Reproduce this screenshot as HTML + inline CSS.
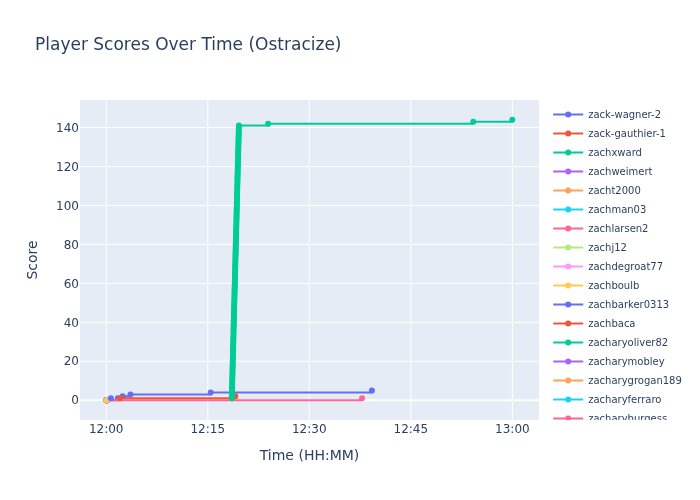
<!DOCTYPE html>
<html lang="en">
<head>
<meta charset="utf-8">
<title>Player Scores Over Time (Ostracize)</title>
<style>
html,body{margin:0;padding:0;background:#fff;}
body{width:700px;height:500px;overflow:hidden;}
svg{display:block;font-family:"DejaVu Sans","Liberation Sans",sans-serif;}
text{fill:#2a3f5f;white-space:pre;}
.gl{fill:none;stroke:#fff;stroke-width:1px;}
.l{fill:none;stroke-width:2;stroke-linejoin:round;}
</style>
</head>
<body>
<svg width="700" height="500" viewBox="0 0 700 500">
<rect x="0" y="0" width="700" height="500" fill="#ffffff"/>
<rect x="80" y="100" width="459" height="320" fill="#E5ECF6"/>
<path class="gl" d="M106.22,100v320"/>
<path class="gl" d="M207.75,100v320"/>
<path class="gl" d="M309.29,100v320"/>
<path class="gl" d="M410.83,100v320"/>
<path class="gl" d="M512.36,100v320"/>
<path class="gl" d="M80,361.29h459"/>
<path class="gl" d="M80,322.33h459"/>
<path class="gl" d="M80,283.37h459"/>
<path class="gl" d="M80,244.42h459"/>
<path class="gl" d="M80,205.46h459"/>
<path class="gl" d="M80,166.50h459"/>
<path class="gl" d="M80,127.54h459"/>
<path class="gl" style="stroke-width:2px" d="M80,400.25h459"/>
<defs><clipPath id="pc"><rect x="80" y="100" width="459" height="320"/></clipPath><clipPath id="lc"><rect x="548" y="100" width="152" height="320"/></clipPath></defs>
<g clip-path="url(#pc)">
<path class="l" d="M106.70,400.25H117.90V398.30H122.60V396.35H130.50V394.41H210.65V392.46H371.90V390.51" stroke="#636EFA"/><circle cx="106.70" cy="400.25" r="3" fill="#636EFA"/><circle cx="117.90" cy="398.30" r="3" fill="#636EFA"/><circle cx="122.60" cy="396.35" r="3" fill="#636EFA"/><circle cx="130.50" cy="394.41" r="3" fill="#636EFA"/><circle cx="210.65" cy="392.46" r="3" fill="#636EFA"/><circle cx="371.90" cy="390.51" r="3" fill="#636EFA"/>
<circle cx="106.7" cy="400.25" r="3" fill="#636EFA"/>
<circle cx="106.7" cy="400.25" r="3" fill="#EF553B"/>
<circle cx="106.7" cy="400.25" r="3" fill="#00CC96"/>
<circle cx="106.7" cy="400.25" r="3" fill="#AB63FA"/>
<circle cx="106.7" cy="400.25" r="3" fill="#FFA15A"/>
<circle cx="106.7" cy="400.25" r="3" fill="#19D3F3"/>
<circle cx="106.7" cy="400.25" r="3" fill="#FF6692"/>
<circle cx="106.7" cy="400.25" r="3" fill="#B6E880"/>
<circle cx="106.7" cy="400.25" r="3" fill="#FF97FF"/>
<circle cx="106.7" cy="400.25" r="3" fill="#FECB52"/>
<circle cx="106.7" cy="400.25" r="3" fill="#636EFA"/>
<circle cx="106.7" cy="400.25" r="3" fill="#EF553B"/>
<circle cx="106.7" cy="400.25" r="3" fill="#00CC96"/>
<circle cx="106.7" cy="400.25" r="3" fill="#AB63FA"/>
<circle cx="106.7" cy="400.25" r="3" fill="#FFA15A"/>
<circle cx="106.7" cy="400.25" r="3" fill="#19D3F3"/>
<circle cx="106.7" cy="400.25" r="3" fill="#FF6692"/>
<circle cx="106.7" cy="400.25" r="3" fill="#B6E880"/>
<circle cx="106.7" cy="400.25" r="3" fill="#FF97FF"/>
<circle cx="106.7" cy="400.25" r="3" fill="#FECB52"/>
<circle cx="106.7" cy="400.25" r="3" fill="#636EFA"/>
<circle cx="106.7" cy="400.25" r="3" fill="#EF553B"/>
<circle cx="106.7" cy="400.25" r="3" fill="#00CC96"/>
<circle cx="106.7" cy="400.25" r="3" fill="#AB63FA"/>
<circle cx="106.7" cy="400.25" r="3" fill="#FFA15A"/>
<circle cx="106.7" cy="400.25" r="3" fill="#19D3F3"/>
<circle cx="106.7" cy="400.25" r="3" fill="#FF6692"/>
<circle cx="106.7" cy="400.25" r="3" fill="#B6E880"/>
<circle cx="106.7" cy="400.25" r="3" fill="#FF97FF"/>
<circle cx="106.7" cy="400.25" r="3" fill="#636EFA"/>
<circle cx="106.7" cy="400.25" r="3" fill="#EF553B"/>
<circle cx="106.7" cy="400.25" r="3" fill="#00CC96"/>
<circle cx="106.7" cy="400.25" r="3" fill="#AB63FA"/>
<circle cx="106.7" cy="400.25" r="3" fill="#FFA15A"/>
<circle cx="106.7" cy="400.25" r="3" fill="#19D3F3"/>
<circle cx="106.7" cy="400.25" r="3" fill="#FF6692"/>
<circle cx="106.7" cy="400.25" r="3" fill="#B6E880"/>
<circle cx="106.7" cy="400.25" r="3" fill="#FF97FF"/>
<path class="l" d="M106.70,400.25H362.00V398.30" stroke="#FF6692"/><circle cx="106.70" cy="400.25" r="3" fill="#FF6692"/><circle cx="362.00" cy="398.30" r="3" fill="#FF6692"/>
<circle cx="106.7" cy="400.25" r="3" fill="#FECB52"/>
<circle cx="110.85" cy="398.30" r="3" fill="#636EFA"/>
<path class="l" d="M120.00,398.30H235.30V396.35" stroke="#EF553B"/><circle cx="120.00" cy="398.30" r="3" fill="#EF553B"/><circle cx="235.30" cy="396.35" r="3" fill="#EF553B"/>
<path class="l" d="M231.80,398.30H231.85V396.35H231.90V394.41H231.95V392.46H232.00V390.51H232.05V388.56H232.10V386.61H232.16V384.67H232.21V382.72H232.26V380.77H232.31V378.82H232.36V376.87H232.41V374.93H232.46V372.98H232.51V371.03H232.56V369.08H232.61V367.14H232.66V365.19H232.71V363.24H232.76V361.29H232.81V359.34H232.87V357.40H232.92V355.45H232.97V353.50H233.02V351.55H233.07V349.60H233.12V347.66H233.17V345.71H233.22V343.76H233.27V341.81H233.32V339.86H233.37V337.92H233.42V335.97H233.47V334.02H233.52V332.07H233.58V330.12H233.63V328.18H233.68V326.23H233.73V324.28H233.78V322.33H233.83V320.39H233.88V318.44H233.93V316.49H233.98V314.54H234.03V312.59H234.08V310.65H234.13V308.70H234.18V306.75H234.23V304.80H234.28V302.85H234.34V300.91H234.39V298.96H234.44V297.01H234.49V295.06H234.54V293.11H234.59V291.17H234.64V289.22H234.69V287.27H234.74V285.32H234.79V283.37H234.84V281.43H234.89V279.48H234.94V277.53H235.00V275.58H235.05V273.64H235.10V271.69H235.15V269.74H235.20V267.79H235.25V265.84H235.30V263.90H235.35V261.95H235.40V260.00H235.45V258.05H235.50V256.10H235.55V254.16H235.60V252.21H235.65V250.26H235.71V248.31H235.76V246.36H235.81V244.42H235.86V242.47H235.91V240.52H235.96V238.57H236.01V236.62H236.06V234.68H236.11V232.73H236.16V230.78H236.21V228.83H236.26V226.89H236.31V224.94H236.36V222.99H236.42V221.04H236.47V219.09H236.52V217.15H236.57V215.20H236.62V213.25H236.67V211.30H236.72V209.35H236.77V207.41H236.82V205.46H236.87V203.51H236.92V201.56H236.97V199.61H237.02V197.67H237.07V195.72H237.12V193.77H237.18V191.82H237.23V189.87H237.28V187.93H237.33V185.98H237.38V184.03H237.43V182.08H237.48V180.14H237.53V178.19H237.58V176.24H237.63V174.29H237.68V172.34H237.73V170.40H237.78V168.45H237.84V166.50H237.89V164.55H237.94V162.60H237.99V160.66H238.04V158.71H238.09V156.76H238.14V154.81H238.19V152.86H238.24V150.92H238.29V148.97H238.34V147.02H238.39V145.07H238.44V143.12H238.49V141.18H238.55V139.23H238.60V137.28H238.65V135.33H238.70V133.38H238.75V131.44H238.80V129.49H238.85V127.54H238.90V125.59H268.10V123.65H473.25V121.70H512.30V119.75" stroke="#00CC96"/><circle cx="231.80" cy="398.30" r="3" fill="#00CC96"/><circle cx="231.85" cy="396.35" r="3" fill="#00CC96"/><circle cx="231.90" cy="394.41" r="3" fill="#00CC96"/><circle cx="231.95" cy="392.46" r="3" fill="#00CC96"/><circle cx="232.00" cy="390.51" r="3" fill="#00CC96"/><circle cx="232.05" cy="388.56" r="3" fill="#00CC96"/><circle cx="232.10" cy="386.61" r="3" fill="#00CC96"/><circle cx="232.16" cy="384.67" r="3" fill="#00CC96"/><circle cx="232.21" cy="382.72" r="3" fill="#00CC96"/><circle cx="232.26" cy="380.77" r="3" fill="#00CC96"/><circle cx="232.31" cy="378.82" r="3" fill="#00CC96"/><circle cx="232.36" cy="376.87" r="3" fill="#00CC96"/><circle cx="232.41" cy="374.93" r="3" fill="#00CC96"/><circle cx="232.46" cy="372.98" r="3" fill="#00CC96"/><circle cx="232.51" cy="371.03" r="3" fill="#00CC96"/><circle cx="232.56" cy="369.08" r="3" fill="#00CC96"/><circle cx="232.61" cy="367.14" r="3" fill="#00CC96"/><circle cx="232.66" cy="365.19" r="3" fill="#00CC96"/><circle cx="232.71" cy="363.24" r="3" fill="#00CC96"/><circle cx="232.76" cy="361.29" r="3" fill="#00CC96"/><circle cx="232.81" cy="359.34" r="3" fill="#00CC96"/><circle cx="232.87" cy="357.40" r="3" fill="#00CC96"/><circle cx="232.92" cy="355.45" r="3" fill="#00CC96"/><circle cx="232.97" cy="353.50" r="3" fill="#00CC96"/><circle cx="233.02" cy="351.55" r="3" fill="#00CC96"/><circle cx="233.07" cy="349.60" r="3" fill="#00CC96"/><circle cx="233.12" cy="347.66" r="3" fill="#00CC96"/><circle cx="233.17" cy="345.71" r="3" fill="#00CC96"/><circle cx="233.22" cy="343.76" r="3" fill="#00CC96"/><circle cx="233.27" cy="341.81" r="3" fill="#00CC96"/><circle cx="233.32" cy="339.86" r="3" fill="#00CC96"/><circle cx="233.37" cy="337.92" r="3" fill="#00CC96"/><circle cx="233.42" cy="335.97" r="3" fill="#00CC96"/><circle cx="233.47" cy="334.02" r="3" fill="#00CC96"/><circle cx="233.52" cy="332.07" r="3" fill="#00CC96"/><circle cx="233.58" cy="330.12" r="3" fill="#00CC96"/><circle cx="233.63" cy="328.18" r="3" fill="#00CC96"/><circle cx="233.68" cy="326.23" r="3" fill="#00CC96"/><circle cx="233.73" cy="324.28" r="3" fill="#00CC96"/><circle cx="233.78" cy="322.33" r="3" fill="#00CC96"/><circle cx="233.83" cy="320.39" r="3" fill="#00CC96"/><circle cx="233.88" cy="318.44" r="3" fill="#00CC96"/><circle cx="233.93" cy="316.49" r="3" fill="#00CC96"/><circle cx="233.98" cy="314.54" r="3" fill="#00CC96"/><circle cx="234.03" cy="312.59" r="3" fill="#00CC96"/><circle cx="234.08" cy="310.65" r="3" fill="#00CC96"/><circle cx="234.13" cy="308.70" r="3" fill="#00CC96"/><circle cx="234.18" cy="306.75" r="3" fill="#00CC96"/><circle cx="234.23" cy="304.80" r="3" fill="#00CC96"/><circle cx="234.28" cy="302.85" r="3" fill="#00CC96"/><circle cx="234.34" cy="300.91" r="3" fill="#00CC96"/><circle cx="234.39" cy="298.96" r="3" fill="#00CC96"/><circle cx="234.44" cy="297.01" r="3" fill="#00CC96"/><circle cx="234.49" cy="295.06" r="3" fill="#00CC96"/><circle cx="234.54" cy="293.11" r="3" fill="#00CC96"/><circle cx="234.59" cy="291.17" r="3" fill="#00CC96"/><circle cx="234.64" cy="289.22" r="3" fill="#00CC96"/><circle cx="234.69" cy="287.27" r="3" fill="#00CC96"/><circle cx="234.74" cy="285.32" r="3" fill="#00CC96"/><circle cx="234.79" cy="283.37" r="3" fill="#00CC96"/><circle cx="234.84" cy="281.43" r="3" fill="#00CC96"/><circle cx="234.89" cy="279.48" r="3" fill="#00CC96"/><circle cx="234.94" cy="277.53" r="3" fill="#00CC96"/><circle cx="235.00" cy="275.58" r="3" fill="#00CC96"/><circle cx="235.05" cy="273.64" r="3" fill="#00CC96"/><circle cx="235.10" cy="271.69" r="3" fill="#00CC96"/><circle cx="235.15" cy="269.74" r="3" fill="#00CC96"/><circle cx="235.20" cy="267.79" r="3" fill="#00CC96"/><circle cx="235.25" cy="265.84" r="3" fill="#00CC96"/><circle cx="235.30" cy="263.90" r="3" fill="#00CC96"/><circle cx="235.35" cy="261.95" r="3" fill="#00CC96"/><circle cx="235.40" cy="260.00" r="3" fill="#00CC96"/><circle cx="235.45" cy="258.05" r="3" fill="#00CC96"/><circle cx="235.50" cy="256.10" r="3" fill="#00CC96"/><circle cx="235.55" cy="254.16" r="3" fill="#00CC96"/><circle cx="235.60" cy="252.21" r="3" fill="#00CC96"/><circle cx="235.65" cy="250.26" r="3" fill="#00CC96"/><circle cx="235.71" cy="248.31" r="3" fill="#00CC96"/><circle cx="235.76" cy="246.36" r="3" fill="#00CC96"/><circle cx="235.81" cy="244.42" r="3" fill="#00CC96"/><circle cx="235.86" cy="242.47" r="3" fill="#00CC96"/><circle cx="235.91" cy="240.52" r="3" fill="#00CC96"/><circle cx="235.96" cy="238.57" r="3" fill="#00CC96"/><circle cx="236.01" cy="236.62" r="3" fill="#00CC96"/><circle cx="236.06" cy="234.68" r="3" fill="#00CC96"/><circle cx="236.11" cy="232.73" r="3" fill="#00CC96"/><circle cx="236.16" cy="230.78" r="3" fill="#00CC96"/><circle cx="236.21" cy="228.83" r="3" fill="#00CC96"/><circle cx="236.26" cy="226.89" r="3" fill="#00CC96"/><circle cx="236.31" cy="224.94" r="3" fill="#00CC96"/><circle cx="236.36" cy="222.99" r="3" fill="#00CC96"/><circle cx="236.42" cy="221.04" r="3" fill="#00CC96"/><circle cx="236.47" cy="219.09" r="3" fill="#00CC96"/><circle cx="236.52" cy="217.15" r="3" fill="#00CC96"/><circle cx="236.57" cy="215.20" r="3" fill="#00CC96"/><circle cx="236.62" cy="213.25" r="3" fill="#00CC96"/><circle cx="236.67" cy="211.30" r="3" fill="#00CC96"/><circle cx="236.72" cy="209.35" r="3" fill="#00CC96"/><circle cx="236.77" cy="207.41" r="3" fill="#00CC96"/><circle cx="236.82" cy="205.46" r="3" fill="#00CC96"/><circle cx="236.87" cy="203.51" r="3" fill="#00CC96"/><circle cx="236.92" cy="201.56" r="3" fill="#00CC96"/><circle cx="236.97" cy="199.61" r="3" fill="#00CC96"/><circle cx="237.02" cy="197.67" r="3" fill="#00CC96"/><circle cx="237.07" cy="195.72" r="3" fill="#00CC96"/><circle cx="237.12" cy="193.77" r="3" fill="#00CC96"/><circle cx="237.18" cy="191.82" r="3" fill="#00CC96"/><circle cx="237.23" cy="189.87" r="3" fill="#00CC96"/><circle cx="237.28" cy="187.93" r="3" fill="#00CC96"/><circle cx="237.33" cy="185.98" r="3" fill="#00CC96"/><circle cx="237.38" cy="184.03" r="3" fill="#00CC96"/><circle cx="237.43" cy="182.08" r="3" fill="#00CC96"/><circle cx="237.48" cy="180.14" r="3" fill="#00CC96"/><circle cx="237.53" cy="178.19" r="3" fill="#00CC96"/><circle cx="237.58" cy="176.24" r="3" fill="#00CC96"/><circle cx="237.63" cy="174.29" r="3" fill="#00CC96"/><circle cx="237.68" cy="172.34" r="3" fill="#00CC96"/><circle cx="237.73" cy="170.40" r="3" fill="#00CC96"/><circle cx="237.78" cy="168.45" r="3" fill="#00CC96"/><circle cx="237.84" cy="166.50" r="3" fill="#00CC96"/><circle cx="237.89" cy="164.55" r="3" fill="#00CC96"/><circle cx="237.94" cy="162.60" r="3" fill="#00CC96"/><circle cx="237.99" cy="160.66" r="3" fill="#00CC96"/><circle cx="238.04" cy="158.71" r="3" fill="#00CC96"/><circle cx="238.09" cy="156.76" r="3" fill="#00CC96"/><circle cx="238.14" cy="154.81" r="3" fill="#00CC96"/><circle cx="238.19" cy="152.86" r="3" fill="#00CC96"/><circle cx="238.24" cy="150.92" r="3" fill="#00CC96"/><circle cx="238.29" cy="148.97" r="3" fill="#00CC96"/><circle cx="238.34" cy="147.02" r="3" fill="#00CC96"/><circle cx="238.39" cy="145.07" r="3" fill="#00CC96"/><circle cx="238.44" cy="143.12" r="3" fill="#00CC96"/><circle cx="238.49" cy="141.18" r="3" fill="#00CC96"/><circle cx="238.55" cy="139.23" r="3" fill="#00CC96"/><circle cx="238.60" cy="137.28" r="3" fill="#00CC96"/><circle cx="238.65" cy="135.33" r="3" fill="#00CC96"/><circle cx="238.70" cy="133.38" r="3" fill="#00CC96"/><circle cx="238.75" cy="131.44" r="3" fill="#00CC96"/><circle cx="238.80" cy="129.49" r="3" fill="#00CC96"/><circle cx="238.85" cy="127.54" r="3" fill="#00CC96"/><circle cx="238.90" cy="125.59" r="3" fill="#00CC96"/><circle cx="268.10" cy="123.65" r="3" fill="#00CC96"/><circle cx="473.25" cy="121.70" r="3" fill="#00CC96"/><circle cx="512.30" cy="119.75" r="3" fill="#00CC96"/>
</g>
<text x="106.22" y="433" text-anchor="middle" font-size="12">12:00</text>
<text x="207.75" y="433" text-anchor="middle" font-size="12">12:15</text>
<text x="309.29" y="433" text-anchor="middle" font-size="12">12:30</text>
<text x="410.83" y="433" text-anchor="middle" font-size="12">12:45</text>
<text x="512.36" y="433" text-anchor="middle" font-size="12">13:00</text>
<text x="79" y="404.45" text-anchor="end" font-size="12">0</text>
<text x="79" y="365.49" text-anchor="end" font-size="12">20</text>
<text x="79" y="326.53" text-anchor="end" font-size="12">40</text>
<text x="79" y="287.57" text-anchor="end" font-size="12">60</text>
<text x="79" y="248.62" text-anchor="end" font-size="12">80</text>
<text x="79" y="209.66" text-anchor="end" font-size="12">100</text>
<text x="79" y="170.70" text-anchor="end" font-size="12">120</text>
<text x="79" y="131.74" text-anchor="end" font-size="12">140</text>
<text x="35" y="50" font-size="17">Player Scores Over Time (Ostracize)</text>
<text x="309.5" y="460.3" text-anchor="middle" font-size="14">Time (HH:MM)</text>
<text transform="rotate(-90,37.3,260)" x="37.3" y="260" text-anchor="middle" font-size="14">Score</text>
<g clip-path="url(#lc)">
<path class="l" d="M553.2,114.5H583.2" stroke="#636EFA"/><circle cx="568.2" cy="114.5" r="3" fill="#636EFA"/><text x="588.2" y="118.40" font-size="10">zack-wagner-2</text>
<path class="l" d="M553.2,133.5H583.2" stroke="#EF553B"/><circle cx="568.2" cy="133.5" r="3" fill="#EF553B"/><text x="588.2" y="137.40" font-size="10">zack-gauthier-1</text>
<path class="l" d="M553.2,152.5H583.2" stroke="#00CC96"/><circle cx="568.2" cy="152.5" r="3" fill="#00CC96"/><text x="588.2" y="156.40" font-size="10">zachxward</text>
<path class="l" d="M553.2,171.5H583.2" stroke="#AB63FA"/><circle cx="568.2" cy="171.5" r="3" fill="#AB63FA"/><text x="588.2" y="175.40" font-size="10">zachweimert</text>
<path class="l" d="M553.2,190.5H583.2" stroke="#FFA15A"/><circle cx="568.2" cy="190.5" r="3" fill="#FFA15A"/><text x="588.2" y="194.40" font-size="10">zacht2000</text>
<path class="l" d="M553.2,209.5H583.2" stroke="#19D3F3"/><circle cx="568.2" cy="209.5" r="3" fill="#19D3F3"/><text x="588.2" y="213.40" font-size="10">zachman03</text>
<path class="l" d="M553.2,228.5H583.2" stroke="#FF6692"/><circle cx="568.2" cy="228.5" r="3" fill="#FF6692"/><text x="588.2" y="232.40" font-size="10">zachlarsen2</text>
<path class="l" d="M553.2,247.5H583.2" stroke="#B6E880"/><circle cx="568.2" cy="247.5" r="3" fill="#B6E880"/><text x="588.2" y="251.40" font-size="10">zachj12</text>
<path class="l" d="M553.2,266.5H583.2" stroke="#FF97FF"/><circle cx="568.2" cy="266.5" r="3" fill="#FF97FF"/><text x="588.2" y="270.40" font-size="10">zachdegroat77</text>
<path class="l" d="M553.2,285.5H583.2" stroke="#FECB52"/><circle cx="568.2" cy="285.5" r="3" fill="#FECB52"/><text x="588.2" y="289.40" font-size="10">zachboulb</text>
<path class="l" d="M553.2,304.5H583.2" stroke="#636EFA"/><circle cx="568.2" cy="304.5" r="3" fill="#636EFA"/><text x="588.2" y="308.40" font-size="10">zachbarker0313</text>
<path class="l" d="M553.2,323.5H583.2" stroke="#EF553B"/><circle cx="568.2" cy="323.5" r="3" fill="#EF553B"/><text x="588.2" y="327.40" font-size="10">zachbaca</text>
<path class="l" d="M553.2,342.5H583.2" stroke="#00CC96"/><circle cx="568.2" cy="342.5" r="3" fill="#00CC96"/><text x="588.2" y="346.40" font-size="10">zacharyoliver82</text>
<path class="l" d="M553.2,361.5H583.2" stroke="#AB63FA"/><circle cx="568.2" cy="361.5" r="3" fill="#AB63FA"/><text x="588.2" y="365.40" font-size="10">zacharymobley</text>
<path class="l" d="M553.2,380.5H583.2" stroke="#FFA15A"/><circle cx="568.2" cy="380.5" r="3" fill="#FFA15A"/><text x="588.2" y="384.40" font-size="10">zacharygrogan189</text>
<path class="l" d="M553.2,399.5H583.2" stroke="#19D3F3"/><circle cx="568.2" cy="399.5" r="3" fill="#19D3F3"/><text x="588.2" y="403.40" font-size="10">zacharyferraro</text>
<path class="l" d="M553.2,418.5H583.2" stroke="#FF6692"/><circle cx="568.2" cy="418.5" r="3" fill="#FF6692"/><text x="588.2" y="422.40" font-size="10">zacharyburgess</text>
</g>
</svg>
</body>
</html>
